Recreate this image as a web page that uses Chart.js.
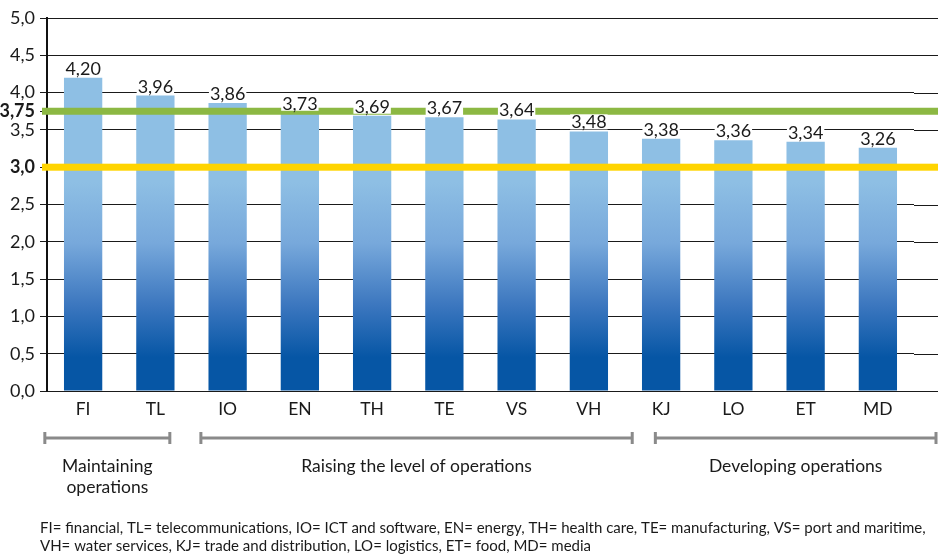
<!DOCTYPE html>
<html>
<head>
<script src="https://cdn.jsdelivr.net/npm/chart.js"></script>
<style>
    body { margin: 0; background: #fff; }
    #wrap { position: relative; width: 938px; height: 555px; }
</style>
</head>
<body>
<div id="wrap"><canvas id="chart" width="938" height="555"></canvas></div>
<script>
const categories = ["FI", "TL", "IO", "EN", "TH", "TE", "VS", "VH", "KJ", "LO", "ET", "MD"];
const scores = [4.20, 3.96, 3.86, 3.73, 3.69, 3.67, 3.64, 3.48, 3.38, 3.36, 3.34, 3.26];
const yTicks = [0, 0.5, 1, 1.5, 2, 2.5, 3, 3.5, 3.75, 4, 4.5, 5];
const boldTicks = [3, 3.75];
const refValues = [3.75, 3.0];
const refColors = ["#8cb843", "#ffd400"];
const groupNames = [["Maintaining", "operations"], ["Raising the level of operations"], ["Developing operations"]];
const groupFirst = ["FI", "IO", "KJ"];
const groupLast = ["TL", "VH", "MD"];
const footnote = [
    "FI= financial, TL= telecommunications, IO= ICT and software, EN= energy, TH= health care, TE= manufacturing, VS= port and maritime,",
    "VH= water services, KJ= trade and distribution, LO= logistics, ET= food, MD= media"
];

const FONT = "Lato, 'Open Sans', sans-serif";
const TEXT = "#1a1a1a";

function fmt(v) {
    return (v === 3.75 ? v.toFixed(2) : v.toFixed(1)).replace(".", ",");
}

function barFill(ctx) {
    const chart = ctx.chart;
    const y = chart.scales.y;
    if (!y || !chart.chartArea) return "#5a90cf";
    const g = chart.ctx.createLinearGradient(0, y.getPixelForValue(2.8), 0, y.getPixelForValue(0.45));
    g.addColorStop(0, "#8ebfe4");
    g.addColorStop(0.35, "#77a8db");
    g.addColorStop(0.7, "#3c77bf");
    g.addColorStop(1, "#0656a5");
    return g;
}

const extras = {
    id: "extras",
    beforeDatasetsDraw(chart) {
        // gridlines run on to the right edge of the picture
        const c = chart.ctx, a = chart.chartArea, y = chart.scales.y;
        c.save();
        c.strokeStyle = "#1a1a1a";
        c.lineWidth = 1;
        yTicks.forEach(v => {
            const py = Math.round(y.getPixelForValue(v)) + 0.5;
            c.beginPath();
            c.moveTo(a.right, py);
            c.lineTo(chart.width, py);
            c.stroke();
        });
        c.restore();
    },
    afterDatasetsDraw(chart) {
        const c = chart.ctx, y = chart.scales.y;
        c.save();
        // reference lines
        refValues.forEach((v, i) => {
            const py = y.getPixelForValue(v);
            c.fillStyle = refColors[i];
            c.fillRect(42, py - 3.5, chart.width - 42, 7);
        });
        // value labels
        c.font = "18px " + FONT;
        c.textAlign = "center";
        c.textBaseline = "alphabetic";
        const meta = chart.getDatasetMeta(0);
        meta.data.forEach((bar, i) => {
            const txt = scores[i].toFixed(2).replace(".", ",");
            const w = c.measureText(txt).width;
            const base = bar.y - 3;
            c.fillStyle = "#fff";
            c.fillRect(bar.x - w / 2 - 1, base - 14, w + 2, 15);
            c.fillStyle = TEXT;
            c.fillText(txt, bar.x, base);
        });
        c.restore();
    },
    afterDraw(chart) {
        const c = chart.ctx, x = chart.scales.x;
        const step = x.getPixelForValue(1) - x.getPixelForValue(0);
        const startOff = [-0.53, -0.37, -0.08];
        const endOff = [0.2, 0.6, 0.82];
        c.save();
        c.strokeStyle = "#8a8a8a";
        c.lineWidth = 3;
        c.fillStyle = TEXT;
        c.font = "17.5px " + FONT;
        c.textAlign = "center";
        groupNames.forEach((name, i) => {
            const x0 = x.getPixelForValue(categories.indexOf(groupFirst[i])) + startOff[i] * step;
            const x1 = Math.min(x.getPixelForValue(categories.indexOf(groupLast[i])) + endOff[i] * step, chart.width - 2);
            c.beginPath();
            c.moveTo(x0, 438); c.lineTo(x1, 438);
            c.moveTo(x0, 432); c.lineTo(x0, 444);
            c.moveTo(x1, 432); c.lineTo(x1, 444);
            c.stroke();
            const cx = (x0 + x1) / 2;
            name.forEach((line, j) => c.fillText(line, cx, 472 + j * 21));
        });
        // footnote
        let size = 16;
        c.textAlign = "left";
        do {
            c.font = size + "px " + FONT;
            size -= 0.25;
        } while (c.measureText(footnote[0]).width > 895 && size > 8);
        footnote.forEach((line, j) => c.fillText(line, 40, 533 + j * 18));
        c.restore();
    }
};

new Chart(document.getElementById("chart").getContext("2d"), {
    type: "bar",
    data: {
        labels: categories,
        datasets: [{
            data: scores,
            backgroundColor: barFill,
            borderWidth: 0,
            barPercentage: 0.53,
            categoryPercentage: 1
        }]
    },
    options: {
        responsive: false,
        devicePixelRatio: 1,
        animation: false,
        layout: { padding: { top: 18, right: 24, left: 0, bottom: 0 } },
        plugins: { legend: { display: false }, tooltip: { enabled: false } },
        scales: {
            x: {
                grid: { display: false, drawTicks: false },
                border: { color: "#1a1a1a", width: 1 },
                ticks: { color: TEXT, font: { size: 17.5, family: FONT }, padding: 8 },
                afterFit(scale) { scale.height = 164; }
            },
            y: {
                min: 0,
                max: 5,
                afterBuildTicks(scale) { scale.ticks = yTicks.map(v => ({ value: v })); },
                grid: { color: "#1a1a1a", lineWidth: 1, tickLength: 7, tickColor: "#1a1a1a" },
                border: { color: "#111", width: 2 },
                ticks: {
                    color: TEXT,
                    padding: 5,
                    font: (c) => ({
                        size: 18,
                        family: FONT,
                        weight: c.tick && boldTicks.includes(c.tick.value) ? "bold" : "normal"
                    }),
                    callback: (v) => fmt(v)
                },
                afterFit(scale) { scale.width = 47; }
            }
        }
    },
    plugins: [extras]
});
</script>
</body>
</html>
